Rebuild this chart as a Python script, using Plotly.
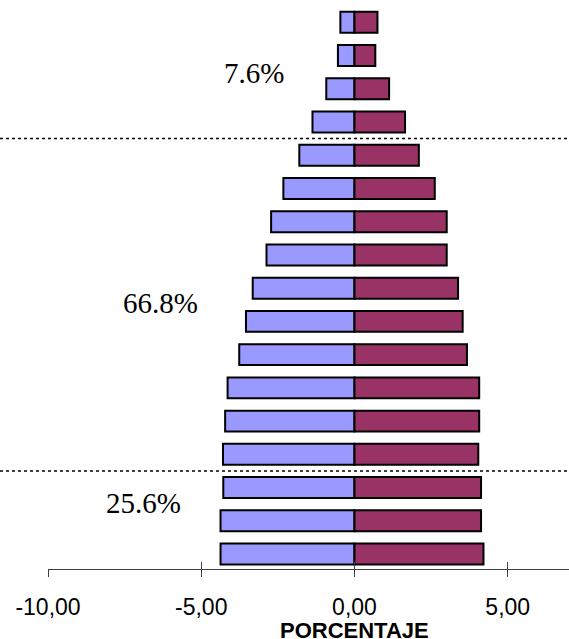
import plotly.graph_objects as go

age_groups = ["0-4", "5-9", "10-14", "15-19", "20-24", "25-29", "30-34", "35-39",
              "40-44", "45-49", "50-54", "55-59", "60-64", "65-69", "70-74", "75-79", "80+"]
hombres = [-4.37, -4.37, -4.28, -4.29, -4.22, -4.14, -3.76, -3.54, -3.32,
           -2.87, -2.72, -2.32, -1.80, -1.37, -0.92, -0.54, -0.46]
mujeres = [4.21, 4.13, 4.13, 4.04, 4.07, 4.07, 3.67, 3.53, 3.38,
           3.01, 3.01, 2.62, 2.10, 1.65, 1.13, 0.68, 0.75]
group_sizes = [3, 10, 4]          # 0-14, 15-64, 65+
group_labels = ["25.6%", "66.8%", "7.6%"]
label_x = [-6.9, -6.34, -3.28]
label_y = [1.53, 7.55, 14.47]
tick_vals = [-10, -5, 0, 5]
tick_text = ["-10,00", "-5,00", "0,00", "5,00"]
x_title = "PORCENTAJE"

idx = list(range(len(age_groups)))

fig = go.Figure()
fig.add_trace(go.Bar(y=idx, x=hombres, orientation="h", name="Hombres",
                     marker=dict(color="#9999FF", line=dict(color="black", width=2)),
                     hovertext=age_groups))
fig.add_trace(go.Bar(y=idx, x=mujeres, orientation="h", name="Mujeres",
                     marker=dict(color="#993366", line=dict(color="black", width=2)),
                     hovertext=age_groups))

# dotted separators between age groups
b = 0
for s in group_sizes[:-1]:
    b += s
    fig.add_shape(type="line", xref="paper", yref="y", x0=-48 / 521, x1=1,
                  y0=b - 0.5, y1=b - 0.5,
                  line=dict(color="black", width=1.5, dash="dot"))

for t, xx, yy in zip(group_labels, label_x, label_y):
    fig.add_annotation(x=xx, y=yy, text=t, showarrow=False,
                       font=dict(family="Liberation Serif", size=29, color="black"))

# axis title
fig.add_annotation(x=0, xref="x", y=-0.1097, yref="paper", yanchor="middle",
                   text="<b>" + x_title + "</b>", showarrow=False,
                   font=dict(family="Liberation Sans", size=22, color="black"))

fig.update_layout(
    width=569, height=639,
    margin=dict(l=48, r=0, t=4, b=70, autoexpand=False),
    barmode="relative", bargap=0.37,
    plot_bgcolor="white", paper_bgcolor="white",
    showlegend=False,
    xaxis=dict(range=[-10, 7], tickvals=tick_vals, ticktext=tick_text,
               ticks="outside", ticklen=7, tickcolor="#404040", tickwidth=1,
               showline=True, linecolor="#404040", linewidth=1,
               showgrid=False, zeroline=False, ticklabelstandoff=10, automargin=False,
               tickfont=dict(family="Liberation Sans", size=23, color="black")),
    xaxis2=dict(range=[-10, 7], tickvals=tick_vals, overlaying="x", side="bottom",
                ticks="inside", ticklen=7, tickcolor="#404040", tickwidth=1, automargin=False,
                showticklabels=False, showgrid=False, zeroline=False, showline=False),
    yaxis=dict(range=[-0.45, 16.55], visible=False, showgrid=False, zeroline=False,
               automargin=False),
)
fig.add_trace(go.Scatter(x=[None], y=[None], xaxis="x2", showlegend=False))

fig.write_html("out.html", config={"displayModeBar": False},
               post_script="document.body.style.margin='0px';document.body.style.overflow='hidden';")
